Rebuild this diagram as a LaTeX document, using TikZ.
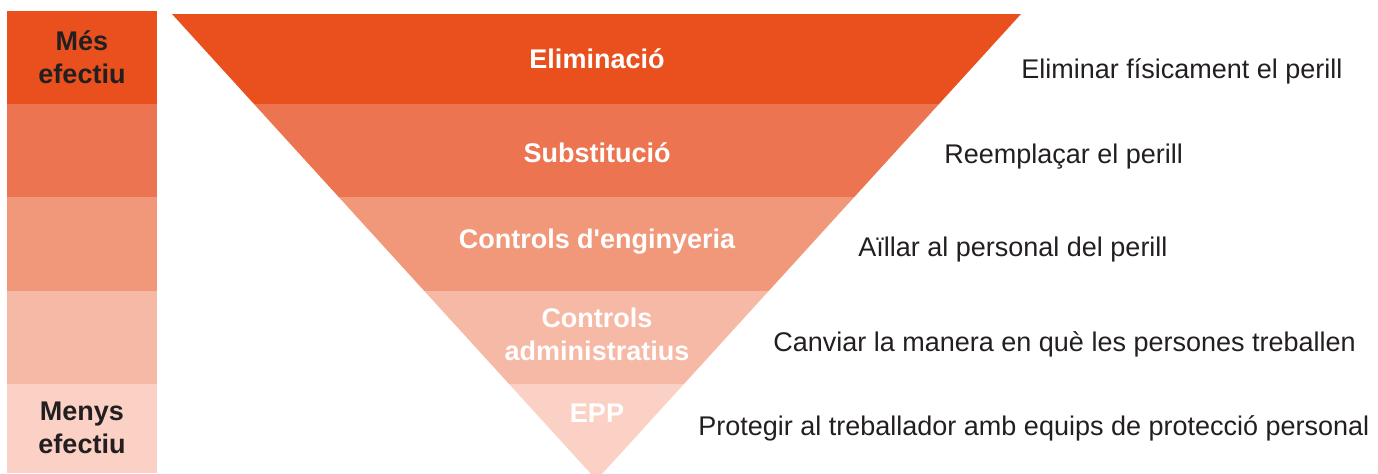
\documentclass[tikz,border=0pt]{standalone}
\usepackage{fontspec}
\setmainfont{Liberation Sans}
\definecolor{bandA}{RGB}{233,80,30}
\definecolor{bandB}{RGB}{237,116,80}
\definecolor{bandC}{RGB}{242,152,122}
\definecolor{bandD}{RGB}{246,185,166}
\definecolor{bandE}{RGB}{250,209,196}
\definecolor{txt}{RGB}{35,31,32}

\begin{document}
\begin{tikzpicture}[x=0.5pt, y=-0.5pt,
  lbl/.style={font=\fontsize{13.5}{16.5}\selectfont\bfseries, align=center, inner sep=0pt},
  sidelbl/.style={lbl, text=txt},
  levellbl/.style={lbl, text=white},
  desc/.style={font=\fontsize{13.5}{16.5}\selectfont, text=txt, anchor=west, inner sep=0pt}]
\useasboundingbox (0,0) rectangle (1378,473);

% effectiveness bar
\fill[bandA] (7,11) rectangle (157,104);
\fill[bandB] (7,104) rectangle (157,197);
\fill[bandC] (7,197) rectangle (157,291);
\fill[bandD] (7,291) rectangle (157,384);
\fill[bandE] (7,384) rectangle (157,473);
\node[sidelbl] (mes) at (82,57) {Més\\efectiu};
\node[sidelbl] (menys) at (82,428) {Menys\\efectiu};

% inverted pyramid
\begin{scope}
\clip (172,14) -- (1021,14) -- (596.5,480) -- cycle;
\fill[bandA] (150,14) rectangle (1050,104);
\fill[bandB] (150,104) rectangle (1050,197);
\fill[bandC] (150,197) rectangle (1050,291);
\fill[bandD] (150,291) rectangle (1050,384);
\fill[bandE] (150,384) rectangle (1050,490);
\end{scope}
\node[levellbl] (elim) at (597,59) {Eliminació};
\node[levellbl] (subst) at (597,153) {Substitució};
\node[levellbl] (eng) at (597,242) {Controls d\textquotesingle enginyeria};
\node[levellbl] (admin) at (597,334) {Controls\\administratius};
\node[levellbl] (epp) at (597,413) {EPP};

% descriptions
\node[desc] (d1) at (1021,71) {Eliminar físicament el perill};
\node[desc] (d2) at (944,157) {Reemplaçar el perill};
\node[desc] (d3) at (858,250) {Aïllar al personal del perill};
\node[desc] (d4) at (773,344) {Canviar la manera en què les persones treballen};
\node[desc] (d5) at (698,428) {Protegir al treballador amb equips de protecció personal};
\end{tikzpicture}
\end{document}
